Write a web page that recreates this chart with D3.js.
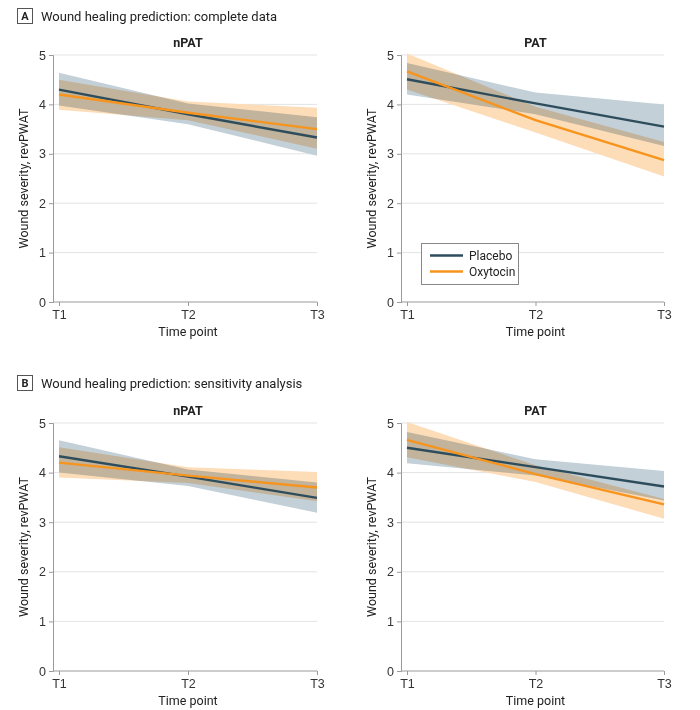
<!DOCTYPE html>
<html>
<head>
<meta charset="utf-8">
<script src="https://cdn.jsdelivr.net/npm/d3@7"></script>
<style>
  body { margin: 0; background: #fff; }
  svg { font-family: "Liberation Sans Narrow", Roboto, "Open Sans", sans-serif; }
</style>
</head>
<body>
<svg id="chart" width="700" height="710"></svg>
<script>
// ---- Data ----
const timePoints = ["T1", "T2", "T3"];
const yTicks = [0, 1, 2, 3, 4, 5];
const groups = ["Placebo", "Oxytocin"];

// Panel A: complete data
const A_nPAT_placebo      = [4.30, 3.80, 3.33];
const A_nPAT_placebo_lo   = [3.98, 3.60, 2.96];
const A_nPAT_placebo_hi   = [4.64, 4.02, 3.74];
const A_nPAT_oxytocin     = [4.20, 3.83, 3.50];
const A_nPAT_oxytocin_lo  = [3.89, 3.68, 3.10];
const A_nPAT_oxytocin_hi  = [4.50, 4.06, 3.93];

const A_PAT_placebo       = [4.51, 4.02, 3.55];
const A_PAT_placebo_lo    = [4.20, 3.80, 3.16];
const A_PAT_placebo_hi    = [4.84, 4.24, 4.00];
const A_PAT_oxytocin      = [4.67, 3.68, 2.87];
const A_PAT_oxytocin_lo   = [4.30, 3.43, 2.54];
const A_PAT_oxytocin_hi   = [5.03, 3.95, 3.24];

// Panel B: sensitivity analysis
const B_nPAT_placebo      = [4.33, 3.92, 3.49];
const B_nPAT_placebo_lo   = [4.00, 3.73, 3.19];
const B_nPAT_placebo_hi   = [4.65, 4.06, 3.80];
const B_nPAT_oxytocin     = [4.20, 3.94, 3.70];
const B_nPAT_oxytocin_lo  = [3.90, 3.79, 3.42];
const B_nPAT_oxytocin_hi  = [4.51, 4.11, 4.01];

const B_PAT_placebo       = [4.50, 4.11, 3.72];
const B_PAT_placebo_lo    = [4.19, 3.94, 3.44];
const B_PAT_placebo_hi    = [4.82, 4.27, 4.03];
const B_PAT_oxytocin      = [4.66, 3.97, 3.36];
const B_PAT_oxytocin_lo   = [4.31, 3.81, 3.07];
const B_PAT_oxytocin_hi   = [5.02, 4.15, 3.47];

const panels = [
  { title: "nPAT", col: 0, row: 0,
    placebo: [A_nPAT_placebo, A_nPAT_placebo_lo, A_nPAT_placebo_hi],
    oxytocin: [A_nPAT_oxytocin, A_nPAT_oxytocin_lo, A_nPAT_oxytocin_hi] },
  { title: "PAT", col: 1, row: 0, legend: true,
    placebo: [A_PAT_placebo, A_PAT_placebo_lo, A_PAT_placebo_hi],
    oxytocin: [A_PAT_oxytocin, A_PAT_oxytocin_lo, A_PAT_oxytocin_hi] },
  { title: "nPAT", col: 0, row: 1,
    placebo: [B_nPAT_placebo, B_nPAT_placebo_lo, B_nPAT_placebo_hi],
    oxytocin: [B_nPAT_oxytocin, B_nPAT_oxytocin_lo, B_nPAT_oxytocin_hi] },
  { title: "PAT", col: 1, row: 1,
    placebo: [B_PAT_placebo, B_PAT_placebo_lo, B_PAT_placebo_hi],
    oxytocin: [B_PAT_oxytocin, B_PAT_oxytocin_lo, B_PAT_oxytocin_hi] }
];

const headers = [
  { letter: "A", text: "Wound healing prediction: complete data", y: 8 },
  { letter: "B", text: "Wound healing prediction: sensitivity analysis", y: 375 }
];

// ---- Styles / layout ----
const colPlacebo = "#2e4d5c";
const colOxy = "#f7941d";
const bandPlacebo = "#c3d0d8";
const bandOxy = "#fddcb8";
const colX = [{ x0: 59, x1: 317, axis: 53 }, { x0: 407, x1: 664, axis: 401 }];
const rowY = [{ top: 55, bottom: 302 }, { top: 423, bottom: 671 }];

const svg = d3.select("#chart");

// headers
headers.forEach(h => {
  const g = svg.append("g");
  g.append("rect").attr("x", 17.5).attr("y", h.y + 0.5).attr("width", 15).attr("height", 15)
    .attr("fill", "#fff").attr("stroke", "#555").attr("stroke-width", 1);
  g.append("text").attr("x", 25).attr("y", h.y + 12).attr("text-anchor", "middle")
    .attr("font-size", 11).attr("font-weight", "bold").attr("fill", "#222").text(h.letter);
  g.append("text").attr("x", 41).attr("y", h.y + 12.5)
    .attr("font-size", 13).attr("fill", "#222").text(h.text);
});

panels.forEach(p => {
  const cx = colX[p.col], ry = rowY[p.row];
  const x = d3.scalePoint().domain(timePoints).range([cx.x0, cx.x1]);
  const y = d3.scaleLinear().domain([0, 5]).range([ry.bottom, ry.top]);
  const g = svg.append("g");

  // gridlines
  g.append("g").selectAll("line").data(yTicks.filter(t => t > 0)).join("line")
    .attr("x1", cx.axis).attr("x2", cx.x1).attr("y1", d => y(d)).attr("y2", d => y(d))
    .attr("stroke", "#e3e3e3").attr("stroke-width", 1);

  // y axis
  const yAxis = d3.axisLeft(y).tickValues(yTicks).tickSize(4).tickPadding(3).tickFormat(d3.format("d"));
  const ya = g.append("g").attr("transform", `translate(${cx.axis},0)`).call(yAxis);
  ya.select(".domain").attr("stroke", "#9a9a9a");
  ya.selectAll(".tick line").attr("stroke", "#9a9a9a");
  ya.selectAll(".tick text").attr("font-size", 12.5).attr("fill", "#333")
    .attr("font-family", "inherit");

  // x axis
  const xa = g.append("g").attr("transform", `translate(0,${ry.bottom})`)
    .call(d3.axisBottom(x).tickSize(4).tickPadding(4).tickSizeOuter(0));
  xa.select(".domain").attr("d", `M${cx.axis},0H${cx.x1}`).attr("stroke", "#9a9a9a");
  xa.selectAll(".tick line").attr("stroke", "#9a9a9a");
  xa.selectAll(".tick text").attr("font-size", 12.5).attr("fill", "#333")
    .attr("font-family", "inherit");

  // bands
  const area = d3.area().x((d, i) => x(timePoints[i])).y0(d => y(d[0])).y1(d => y(d[1]));
  const bandData = s => s[1].map((v, i) => [v, s[2][i]]);
  const bands = g.append("g").style("isolation", "isolate");
  bands.append("path").datum(bandData(p.placebo)).attr("d", area)
    .attr("fill", bandPlacebo).style("mix-blend-mode", "multiply");
  bands.append("path").datum(bandData(p.oxytocin)).attr("d", area)
    .attr("fill", bandOxy).style("mix-blend-mode", "multiply");

  // lines
  const line = d3.line().x((d, i) => x(timePoints[i])).y(d => y(d));
  g.append("path").datum(p.placebo[0]).attr("d", line).attr("fill", "none")
    .attr("stroke", colPlacebo).attr("stroke-width", 2.4);
  g.append("path").datum(p.oxytocin[0]).attr("d", line).attr("fill", "none")
    .attr("stroke", colOxy).attr("stroke-width", 2.4);

  // titles
  g.append("text").attr("x", (cx.x0 + cx.x1) / 2).attr("y", ry.top - 8).attr("text-anchor", "middle")
    .attr("font-size", 12.5).attr("font-weight", "bold").attr("fill", "#222").text(p.title);
  g.append("text").attr("x", (cx.x0 + cx.x1) / 2).attr("y", ry.bottom + 34).attr("text-anchor", "middle")
    .attr("font-size", 12.5).attr("fill", "#222").text("Time point");
  g.append("text")
    .attr("transform", `translate(${cx.axis - 25},${(ry.top + ry.bottom) / 2}) rotate(-90)`)
    .attr("text-anchor", "middle").attr("font-size", 12.5).attr("fill", "#222")
    .text("Wound severity, revPWAT");

  // legend
  if (p.legend) {
    const lg = g.append("g").attr("transform", "translate(421,243)");
    lg.append("rect").attr("x", 0.5).attr("y", 0.5).attr("width", 97).attr("height", 41)
      .attr("fill", "#fff").attr("stroke", "#888").attr("stroke-width", 1);
    const items = [{ name: groups[0], c: colPlacebo }, { name: groups[1], c: colOxy }];
    items.forEach((it, i) => {
      const yy = 12.5 + i * 16;
      lg.append("line").attr("x1", 9).attr("x2", 42).attr("y1", yy).attr("y2", yy)
        .attr("stroke", it.c).attr("stroke-width", 2.4);
      lg.append("text").attr("x", 48).attr("y", yy + 4.5).attr("font-size", 12)
        .attr("fill", "#222").text(it.name);
    });
  }
});
</script>
</body>
</html>
